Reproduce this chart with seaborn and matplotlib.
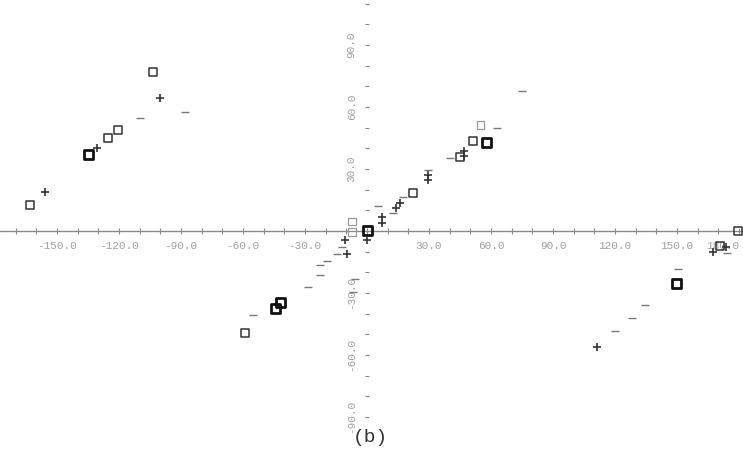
import matplotlib
matplotlib.use("Agg")
import matplotlib.pyplot as plt
import matplotlib.ticker as mticker
import seaborn as sns
import pandas as pd

# Points along the four arms (x, y) with their marker kind
ul_x = [-163.0, -155.8, -135.0, -130.6, -125.3, -120.5, -109.8, -100.1, -103.5, -88.0]
ul_y = [12.6, 18.9, 36.8, 40.2, 45.0, 48.9, 54.7, 64.3, 76.9, 57.6]
ul_k = ["square", "plus", "square_bold", "plus", "square", "square", "tick", "plus", "square", "tick"]

ur_x = [0.0, 7.3, 7.3, 12.6, 14.0, 16.0, 17.4, 22.3, 29.5, 29.5, 29.5, 40.2, 45.0, 46.9, 46.9,
        51.3, 57.6, 54.7, 62.9, 75.0, 5.3]
ur_y = [0.0, 3.9, 6.8, 8.7, 11.1, 13.5, 16.4, 18.4, 24.7, 27.1, 29.5, 35.3, 35.8, 36.3, 38.7,
        43.5, 42.6, 51.3, 49.8, 67.7, 12.1]
ur_k = ["square_bold", "plus", "plus", "tick", "plus", "plus", "tick", "square", "plus", "plus", "tick",
        "tick", "square", "plus", "plus", "square", "square_bold", "square_faint", "tick", "tick", "tick"]

ll_x = [-44.5, -42.1, -59.0, -55.2, -28.5, -22.7, -22.7, -19.4, -14.5, -9.7, -5.8, -6.8,
        -12.1, -10.6, -7.3, -7.3, 0.0]
ll_y = [-37.3, -34.8, -49.3, -40.6, -27.1, -21.3, -16.4, -14.5, -11.1, -11.1, -23.2, -29.5,
        -7.7, -4.4, 4.4, -0.5, -4.4]
ll_k = ["square_bold", "square_bold", "square", "tick", "tick", "tick", "tick", "tick", "tick", "plus",
        "tick", "tick", "tick", "plus", "square_faint", "square_faint", "plus"]

lr_x = [149.5, 111.3, 120.0, 128.2, 134.5, 150.5, 167.4, 174.2, 179.5, 170.8, 173.5]
lr_y = [-25.2, -56.1, -48.4, -42.1, -35.8, -18.4, -10.2, -10.6, 0.0, -7.3, -8.0]
lr_k = ["square_bold", "plus", "tick", "tick", "tick", "tick", "plus", "tick", "square", "square", "plus"]

x_ticks = [-150, -120, -90, -60, -30, 30, 60, 90, 120, 150, 180]
y_ticks = [-90, -60, -30, 30, 60, 90]
caption = "(b)"

df = pd.DataFrame({
    "x": ul_x + ur_x + ll_x + lr_x,
    "y": ul_y + ur_y + ll_y + lr_y,
    "kind": ul_k + ur_k + ll_k + lr_k,
})

sns.set_theme(style="white")
plt.rcParams["font.family"] = ["Liberation Mono", "DejaVu Sans Mono"]

fig = plt.figure(figsize=(7.43, 4.61), dpi=100)
ax = fig.add_axes([0.0, 0.089, 1.0, 0.911])

styles = {
    "square_bold": dict(marker="s", s=42, fc="none", ec="#111111", linewidth=2.0),
    "square": dict(marker="s", s=32, fc="none", ec="#333333", linewidth=1.1),
    "square_faint": dict(marker="s", s=26, fc="none", ec="#9a9a9a", linewidth=0.9),
    "plus": dict(marker="+", s=40, color="#333333", linewidth=1.2),
    "tick": dict(marker="_", s=30, color="#777777", linewidth=1.0),
}
for kind, kw in styles.items():
    sub = df[df["kind"] == kind]
    sns.scatterplot(data=sub, x="x", y="y", ax=ax, legend=False, zorder=3, **kw)

ax.set_xlim(-177.6, 181.9)
ax.set_ylim(-91.5, 111.8)
ax.set_xlabel("")
ax.set_ylabel("")

for side in ("top", "right"):
    ax.spines[side].set_visible(False)
ax.spines["bottom"].set_position(("data", 0))
ax.spines["left"].set_position(("data", 0))
ax.spines["bottom"].set_color("#8a8a8a")
ax.spines["bottom"].set_linewidth(1.0)
ax.spines["left"].set_visible(False)

ax.xaxis.set_major_locator(mticker.FixedLocator(x_ticks))
ax.xaxis.set_minor_locator(mticker.MultipleLocator(10))
ax.yaxis.set_major_locator(mticker.FixedLocator(y_ticks))
ax.yaxis.set_minor_locator(mticker.MultipleLocator(10))
ax.xaxis.set_major_formatter(mticker.FuncFormatter(lambda v, p: f"{v:.1f}"))
ax.yaxis.set_major_formatter(mticker.FuncFormatter(lambda v, p: f"{v:.1f}"))

ax.tick_params(axis="x", which="both", direction="inout", length=4, width=0.8,
               color="#8a8a8a", labelsize=8, labelcolor="#a0a0a0", pad=5,
               bottom=True)
ax.tick_params(axis="y", which="both", direction="inout", length=3, width=0.8,
               color="#8a8a8a", labelsize=8, labelcolor="#a0a0a0", pad=6,
               left=True)
for lab in ax.get_yticklabels():
    lab.set_rotation(90)
    lab.set_va("center")

# keep the last x label inside the figure edge
fig.canvas.draw()
ax.get_xticklabels()[-1].set_ha("right")

fig.text(0.499, 0.052, caption, ha="center", va="center", fontsize=14, color="#333333")

fig.savefig("out.png", dpi=100, facecolor="white")
